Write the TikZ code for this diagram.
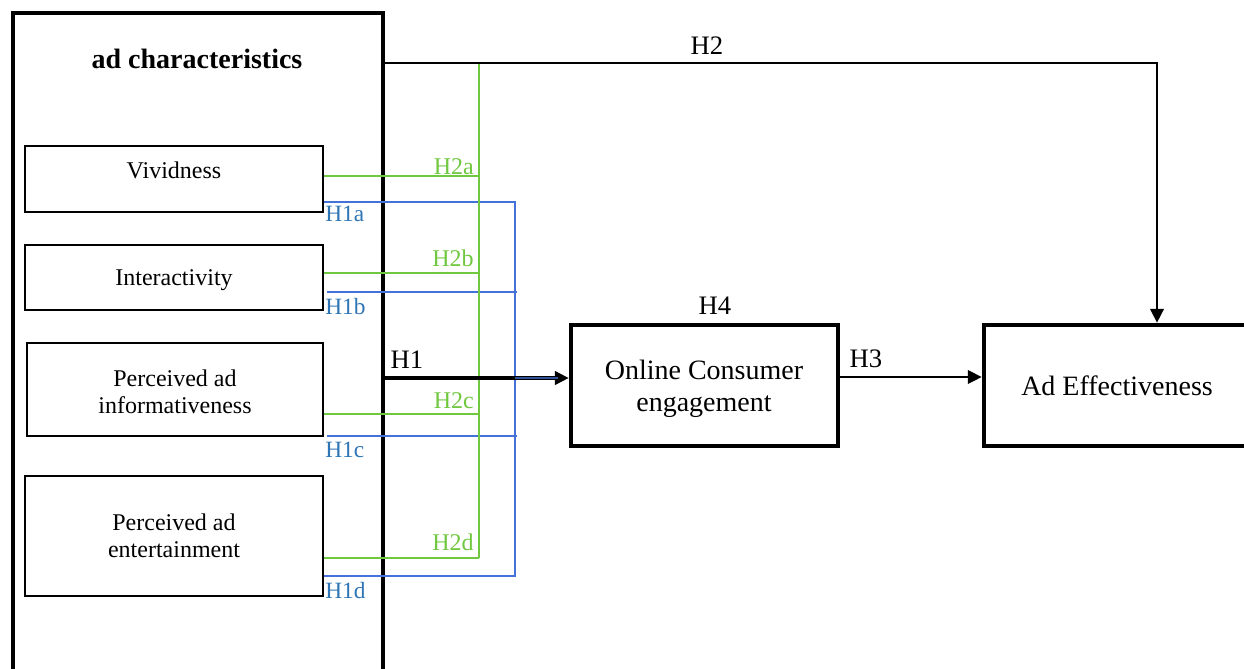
\documentclass[tikz,border=0pt]{standalone}
\usepackage{fontspec}
\setmainfont{Liberation Serif}
\usetikzlibrary{arrows.meta}
\definecolor{hgreen}{RGB}{112,200,64}
\definecolor{hblue}{RGB}{68,114,216}
\definecolor{hbluetext}{RGB}{46,117,182}
\tikzset{
  bigbox/.style={draw, line width=3.6pt, inner sep=0pt},
  itembox/.style={draw, line width=1.8pt, inner sep=0pt, minimum width=223.5pt},
  mainbox/.style={draw, line width=3.3pt, inner sep=0pt, minimum height=90.75pt},
  itemtext/.style={font=\fontsize{18}{20.25}\selectfont, align=center, inner sep=0pt},
  maintext/.style={font=\fontsize{21}{24}\selectfont, align=center, inner sep=0pt},
  hlab/.style={font=\fontsize{20}{22}\selectfont, inner sep=0pt},
  glab/.style={font=\fontsize{18}{20}\selectfont, text=hgreen, inner sep=0pt, anchor=east},
  blab/.style={font=\fontsize{17.5}{20}\selectfont, text=hbluetext, inner sep=0pt, anchor=west},
  gline/.style={draw=hgreen, line width=0.8pt},
  bline/.style={draw=hblue, line width=0.8pt},
  tip/.style={-{Triangle[length=10.5pt,width=10pt]}},
}
\begin{document}
\begin{tikzpicture}[x=0.75pt,y=-0.75pt]
\useasboundingbox (0,0) rectangle (1244,668);
\clip (0,0) rectangle (1244,668);
\fill[white] (0,0) rectangle (1244,668);

% boxes
\node[bigbox, minimum width=277.5pt, minimum height=515.25pt] (adc) at (198,356.5) {};
\node[font=\bfseries\fontsize{21}{23}\selectfont, inner sep=0pt] (adct) at (197,59) {ad characteristics};

\node[itembox, minimum height=49.5pt] (viv) at (174,179) {};
\node[itemtext] (vivt) at (174,170) {Vividness};
\node[itembox, minimum height=48.75pt] (int) at (174,277.5) {};
\node[itemtext] (intt) at (174,280) {Interactivity};
\node[itembox, minimum width=222pt, minimum height=69.75pt] (inf) at (175,389.5) {};
\node[itemtext] (inft) at (175,392) {Perceived ad\\informativeness};
\node[itembox, minimum height=90pt] (ent) at (174,536) {};
\node[itemtext] (entt) at (174,536) {Perceived ad\\entertainment};

\node[mainbox, minimum width=200.25pt] (oce) at (704.5,385.5) {};
\node[maintext] (ocet) at (704,389) {Online Consumer\\engagement};
\node[mainbox, minimum width=214.5pt] (eff) at (1127,385.5) {};
\node[maintext] (efft) at (1117,386) {Ad Effectiveness};

% coordinates
\coordinate (gtop) at (479,63);
\coordinate (ga) at (479,176);
\coordinate (gb) at (479,273);
\coordinate (gc) at (479,414);
\coordinate (gd) at (479,558);
\coordinate (ba) at (515,202);
\coordinate (bb) at (517,292);
\coordinate (bc) at (517,436);
\coordinate (bd) at (515,576);
\coordinate (h1) at (515,378);
\coordinate (h2c) at (1157,63);
\coordinate (h3) at (900,377);

% blue lines (H1a-H1d)
\draw[bline] (viv.east |- ba) -- (ba) -- (bd) -- (ent.east |- bd);
\draw[bline] ([xshift=2.25pt]int.east |- bb) -- (bb);
\draw[bline] ([xshift=2.25pt]inf.east |- bc) -- (bc);

% green lines (H2a-H2d)
\draw[gline] (gtop) -- (gd);
\draw[gline] (viv.east |- ga) -- (ga);
\draw[gline] (int.east |- gb) -- (gb);
\draw[gline] (inf.east |- gc) -- (gc);
\draw[gline] (ent.east |- gd) -- (gd);

% main connectors
\draw[line width=2.2pt, tip] (adc.east |- h2c) -- (h2c) -- (h2c |- eff.north);
\draw[line width=2.4pt, tip] (adc.east |- h1) -- (oce.west |- h1);
\draw[hblue!70!black, line width=0.9pt] (h1) -- ([xshift=-8pt]oce.west |- h1);
\draw[line width=1.9pt, tip] (oce.east |- h3) -- (eff.west |- h3);

% labels
\node[hlab] (lh2) at (707,46) {H2};
\node[hlab] (lh1) at (407,360) {H1};
\node[hlab] (lh4) at (715,306) {H4};
\node[hlab] (lh3) at (866,359) {H3};

\node[glab] (l2a) at (474,167) {H2a};
\node[glab] (l2b) at (474,258) {H2b};
\node[glab] (l2c) at (474,401) {H2c};
\node[glab] (l2d) at (474,542) {H2d};

\node[blab] (l1a) at (325,214) {H1a};
\node[blab] (l1b) at (325,307) {H1b};
\node[blab] (l1c) at (325,450) {H1c};
\node[blab] (l1d) at (325,591) {H1d};
\end{tikzpicture}
\end{document}
